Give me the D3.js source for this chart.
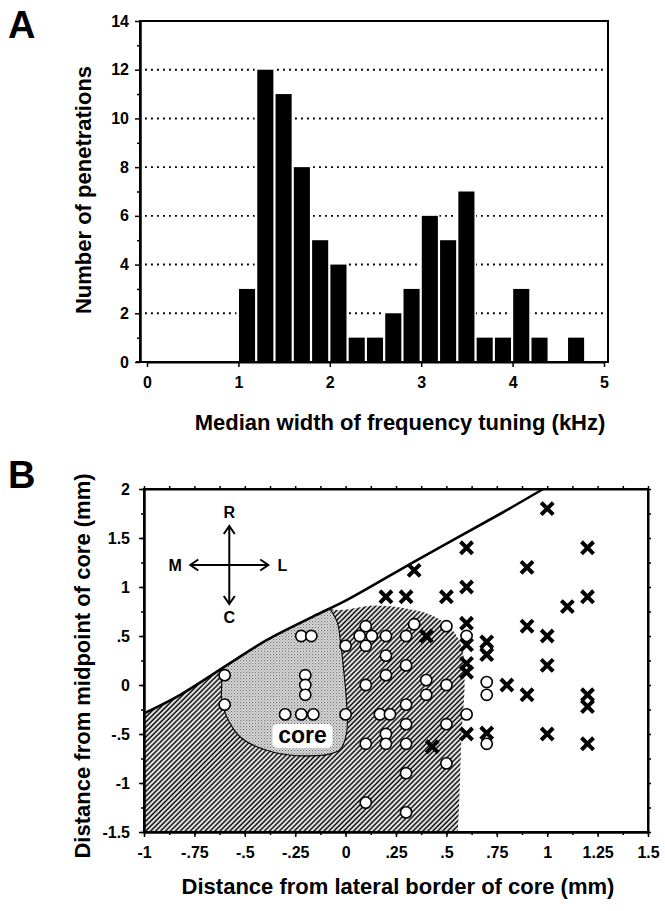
<!DOCTYPE html>
<html>
<head>
<meta charset="utf-8">
<script src="https://cdn.jsdelivr.net/npm/d3@7"></script>
<style>
  body { margin: 0; background: #fff; }
  svg { display: block; }
  text { font-family: "Liberation Sans", Arial, Helvetica, sans-serif; font-weight: bold; fill: #000; }
</style>
</head>
<body>
<svg id="fig" width="665" height="911"></svg>
<script>
// ---------- Panel A: histogram of median tuning width (0.2 kHz bins) ----------
const binStarts = [1.0, 1.2, 1.4, 1.6, 1.8, 2.0, 2.2, 2.4, 2.6, 2.8, 3.0, 3.2, 3.4, 3.6, 3.8, 4.0, 4.2, 4.4, 4.6];
const binCounts = [3, 12, 11, 8, 5, 4, 1, 1, 2, 3, 6, 5, 7, 1, 1, 3, 1, 0, 1];
const binWidth = 0.2;
const countTicks = [0, 2, 4, 6, 8, 10, 12, 14];
const countMinorTicks = [1, 3, 5, 7, 9, 11, 13];
const widthTicks = [0, 1, 2, 3, 4, 5];

// ---------- Panel B: penetration sites relative to the core ----------
const xTicksB = [-1, -0.75, -0.5, -0.25, 0, 0.25, 0.5, 0.75, 1, 1.25, 1.5];
const xTickLabelsB = ["-1", "-.75", "-.5", "-.25", "0", ".25", ".5", ".75", "1", "1.25", "1.5"];
const yTicksB = [2, 1.5, 1, 0.5, 0, -0.5, -1, -1.5];
const yTickLabelsB = ["2", "1.5", "1", ".5", "0", "-.5", "-1", "-1.5"];

// open circles
const circleX = [-0.22, -0.17, 0.0, 0.07, 0.1, 0.13, 0.1, 0.2, 0.2, 0.3, 0.34, 0.3, 0.5, 0.6, 0.7,
                 -0.6, -0.6, -0.2, -0.2, -0.2, -0.3, -0.22, -0.16, 0.0, 0.1, 0.2, 0.17, 0.22, 0.3, 0.3,
                 0.4, 0.4, 0.5, 0.5, 0.6, 0.2, 0.2, 0.1, 0.3, 0.5, 0.3, 0.1, 0.3, 0.7, 0.7, 0.7];
const circleY = [0.5, 0.5, 0.4, 0.5, 0.6, 0.5, 0.4, 0.5, 0.3, 0.5, 0.62, 0.2, 0.6, 0.5, 0.37,
                 0.1, -0.2, 0.1, 0.0, -0.1, -0.3, -0.3, -0.3, -0.3, 0.0, 0.1, -0.3, -0.3, -0.2, -0.4,
                 0.05, -0.1, 0.0, -0.4, -0.3, -0.5, -0.6, -0.6, -0.6, -0.8, -0.9, -1.2, -1.3, 0.03, -0.1, -0.6];
// crosses
const crossX = [1.0, 0.6, 1.2, 0.34, 0.9, 0.6, 0.2, 0.3, 0.5, 1.2, 1.1, 0.6, 0.9, 0.4, 1.0,
                0.6, 0.7, 0.7, 0.6, 0.6, 1.0, 0.8, 0.9, 1.2, 1.2, 0.6, 0.7, 1.0, 1.2, 0.43];
const crossY = [1.8, 1.4, 1.4, 1.17, 1.2, 1.0, 0.9, 0.9, 0.9, 0.9, 0.8, 0.63, 0.6, 0.5, 0.5,
                0.41, 0.44, 0.31, 0.22, 0.13, 0.2, 0.0, -0.1, -0.1, -0.22, -0.5, -0.49, -0.5, -0.6, -0.63];

// solid border line
const borderX = [-1.0, -0.82, -0.59, -0.39, -0.16, 0.0, 0.35, 0.77, 0.98];
const borderY = [-0.29, -0.1, 0.2, 0.46, 0.7, 0.86, 1.27, 1.75, 2.0];

// hatched field (clipped below the border line)
const hatchX = [-1.0, -1.0, -0.3, -0.06, 0.14, 0.3, 0.44, 0.53, 0.58, 0.59, 0.575, 0.567, 0.557];
const hatchY = [-1.5, 1.0, 1.0, 0.77, 0.81, 0.78, 0.7, 0.56, 0.36, 0.0, -0.5, -1.0, -1.5];

// stippled core
const coreX = [-0.615, -0.64, -0.35, -0.12, -0.045, -0.025, -0.008, 0.006, 0.005, -0.028, -0.08, -0.28, -0.44, -0.524, -0.59, -0.615];
const coreY = [0.085, 0.35, 0.75, 0.85, 0.66, 0.43, 0.12, -0.22, -0.49, -0.66, -0.705, -0.715, -0.63, -0.528, -0.323, -0.153];

const svg = d3.select("#fig");
const defs = svg.append("defs");

// ============ PANEL A ============
const A = { left: 140, right: 608, top: 21, bottom: 362 };
const xA = d3.scaleLinear().domain([0, 5]).range([147, 604]);
const yA = d3.scaleLinear().domain([0, 14]).range([A.bottom, A.top]);
const gA = svg.append("g");

// dotted reference lines
gA.append("g").selectAll("line")
  .data(countTicks.filter(v => v > 0 && v < 14))
  .join("line")
  .attr("x1", A.left + 5).attr("x2", A.right - 3)
  .attr("y1", d => yA(d)).attr("y2", d => yA(d))
  .attr("stroke", "#000").attr("stroke-width", 1.9)
  .attr("stroke-dasharray", "1.9,4.1");

const bins = binStarts.map((b, i) => ({ b, n: binCounts[i] })).filter(d => d.n > 0);
// white knock-out around each bar
gA.append("g").selectAll("rect")
  .data(bins).join("rect")
  .attr("x", d => xA(d.b) - 2)
  .attr("y", d => yA(d.n) - 3)
  .attr("width", d => xA(d.b + binWidth) - xA(d.b) + 2)
  .attr("height", d => yA(0) - yA(d.n) + 3)
  .attr("fill", "#fff");
gA.append("g").selectAll("rect")
  .data(bins).join("rect")
  .attr("x", d => xA(d.b) + 0.6)
  .attr("y", d => yA(d.n))
  .attr("width", d => xA(d.b + binWidth) - xA(d.b) - 2.2)
  .attr("height", d => yA(0) - yA(d.n))
  .attr("fill", "#000");

// frame
gA.append("path")
  .attr("d", `M${A.left},${A.bottom}V${A.top}H${A.right}V${A.bottom}H${A.left - 4}`)
  .attr("fill", "none").attr("stroke", "#000").attr("stroke-width", 2);

// axes
gA.append("g").attr("transform", `translate(${A.left},0)`)
  .call(d3.axisLeft(yA).tickValues(countTicks).tickSize(5).tickPadding(6).tickFormat(d3.format("d")).tickSizeOuter(0));
gA.append("g").attr("transform", `translate(${A.left},0)`)
  .call(d3.axisLeft(yA).tickValues(countMinorTicks).tickSize(3).tickFormat("").tickSizeOuter(0));
gA.append("g").attr("transform", `translate(0,${A.bottom})`)
  .call(d3.axisBottom(xA).tickValues(widthTicks).tickSize(5).tickPadding(10).tickFormat(d3.format("d")).tickSizeOuter(0));

// ============ PANEL B ============
const B = { left: 144, right: 648, top: 489, bottom: 832 };
const xB = d3.scaleLinear().domain([-1, 1.5]).range([B.left, B.right]);
const yB = d3.scaleLinear().domain([-1.5, 2]).range([B.bottom, B.top]);
const gB = svg.append("g");

// patterns
const hatch = defs.append("pattern").attr("id", "hatch")
  .attr("patternUnits", "userSpaceOnUse").attr("width", 3.5).attr("height", 3.5)
  .attr("patternTransform", "rotate(45)");
hatch.append("rect").attr("width", 3.5).attr("height", 3.5).attr("fill", "#fff");
hatch.append("line").attr("x1", 1.2).attr("x2", 1.2).attr("y1", 0).attr("y2", 3.5)
  .attr("stroke", "#000").attr("stroke-width", 1.6);

const stip = defs.append("pattern").attr("id", "stip")
  .attr("patternUnits", "userSpaceOnUse").attr("width", 3).attr("height", 3);
stip.append("rect").attr("width", 3).attr("height", 3).attr("fill", "#dadada");
stip.append("rect").attr("x", 0).attr("y", 0).attr("width", 1.1).attr("height", 1.1).attr("fill", "#6e6e6e");
stip.append("rect").attr("x", 1.5).attr("y", 1.5).attr("width", 1.1).attr("height", 1.1).attr("fill", "#8e8e8e");

// clip: everything below/right of the border line, inside the frame
const borderPts = borderX.map((x, i) => [xB(x), yB(borderY[i])]);
const borderLine = d3.line().curve(d3.curveCatmullRom);
const corners = [[xB(1.5), yB(2)], [xB(1.5), yB(-1.5)], [xB(-1), yB(-1.5)]];
defs.append("clipPath").attr("id", "belowBorder")
  .append("path").attr("d", borderLine(borderPts) +
    corners.map(p => `L${p[0]},${p[1]}`).join("") + "Z");

const hatchPts = hatchX.map((x, i) => [xB(x), yB(hatchY[i])]);
gB.append("path")
  .attr("clip-path", "url(#belowBorder)")
  .attr("d", d3.line().curve(d3.curveCatmullRom)(hatchPts) + "Z")
  .attr("fill", "url(#hatch)");

const corePts = coreX.map((x, i) => [xB(x), yB(coreY[i])]);
gB.append("path")
  .attr("clip-path", "url(#belowBorder)")
  .attr("d", d3.line().curve(d3.curveCatmullRomClosed)(corePts))
  .attr("fill", "url(#stip)").attr("stroke", "#000").attr("stroke-width", 1.1);

// border line
gB.append("path")
  .attr("d", borderLine(borderPts))
  .attr("fill", "none").attr("stroke", "#000").attr("stroke-width", 2.6);

// "core" label
const coreLabel = gB.append("g").attr("transform", `translate(${xB(-0.214)},${yB(-0.52)})`);
coreLabel.append("rect").attr("x", -30).attr("y", -12).attr("width", 60).attr("height", 24)
  .attr("rx", 5).attr("fill", "#fff");
coreLabel.append("text").attr("text-anchor", "middle").attr("y", 7).attr("font-size", 23).text("core");

// orientation compass
const cx = xB(-0.577), cy = yB(1.224);
const comp = gB.append("g").attr("transform", `translate(${cx},${cy})`);
const armV = 39, armH = 39, head = 8, hw = 5.5;
comp.append("path").attr("d", `M0,${-armV}V${armV}M${-armH},0H${armH}`)
  .attr("stroke", "#000").attr("stroke-width", 2).attr("fill", "none");
comp.append("path").attr("d",
  `M${-hw},${-armV + head}L0,${-armV}L${hw},${-armV + head}` +
  `M${-hw},${armV - head}L0,${armV}L${hw},${armV - head}` +
  `M${-armH + head},${-hw}L${-armH},0L${-armH + head},${hw}` +
  `M${armH - head},${-hw}L${armH},0L${armH - head},${hw}`)
  .attr("stroke", "#000").attr("stroke-width", 2).attr("fill", "none");
const compLabels = [["R", 0, -armV - 8], ["C", 0, armV + 19], ["M", -armH - 15, 6], ["L", armH + 14, 6]];
comp.selectAll("text").data(compLabels).join("text")
  .attr("x", d => d[1]).attr("y", d => d[2]).attr("text-anchor", "middle")
  .attr("font-size", 16).text(d => d[0]);

// markers
gB.append("g").selectAll("circle")
  .data(circleX.map((x, i) => [x, circleY[i]])).join("circle")
  .attr("cx", d => xB(d[0])).attr("cy", d => yB(d[1])).attr("r", 5.6)
  .attr("fill", "#fff").attr("stroke", "#000").attr("stroke-width", 1.6);
gB.append("g").selectAll("path")
  .data(crossX.map((x, i) => [x, crossY[i]])).join("path")
  .attr("transform", d => `translate(${xB(d[0])},${yB(d[1])})`)
  .attr("d", "M-4.6,-4.6L4.6,4.6M-4.6,4.6L4.6,-4.6")
  .attr("stroke", "#000").attr("stroke-width", 4).attr("stroke-linecap", "square");

// frame
gB.append("rect").attr("x", B.left).attr("y", B.top)
  .attr("width", B.right - B.left).attr("height", B.bottom - B.top)
  .attr("fill", "none").attr("stroke", "#000").attr("stroke-width", 2);

const minorX = d3.range(-1, 1.5001, 0.125);
const minorY = d3.range(-1.5, 2.0001, 0.25);
const fmtX = v => xTickLabelsB[xTicksB.findIndex(t => Math.abs(t - v) < 1e-9)];
const fmtY = v => yTickLabelsB[yTicksB.findIndex(t => Math.abs(t - v) < 1e-9)];

gB.append("g").attr("transform", `translate(0,${B.bottom})`)
  .call(d3.axisBottom(xB).tickValues(xTicksB).tickSize(5).tickPadding(10).tickFormat(fmtX).tickSizeOuter(0));
gB.append("g").attr("transform", `translate(0,${B.bottom})`)
  .call(d3.axisBottom(xB).tickValues(minorX).tickSize(3).tickFormat("").tickSizeOuter(0));
gB.append("g").attr("transform", `translate(0,${B.top})`)
  .call(d3.axisTop(xB).tickValues(minorX).tickSize(3).tickFormat("").tickSizeOuter(0));
gB.append("g").attr("transform", `translate(${B.left},0)`)
  .call(d3.axisLeft(yB).tickValues(yTicksB).tickSize(5).tickPadding(9).tickFormat(fmtY).tickSizeOuter(0));
gB.append("g").attr("transform", `translate(${B.left},0)`)
  .call(d3.axisLeft(yB).tickValues(minorY).tickSize(3).tickFormat("").tickSizeOuter(0));
gB.append("g").attr("transform", `translate(${B.right},0)`)
  .call(d3.axisRight(yB).tickValues(minorY).tickSize(3).tickFormat("").tickSizeOuter(0));

// common axis styling
svg.selectAll(".domain").attr("stroke-width", 2);
svg.selectAll(".tick line").attr("stroke-width", 1.5);
svg.selectAll(".tick text").attr("font-size", 16).attr("font-weight", "bold")
  .attr("font-family", "'Liberation Sans', Arial, sans-serif");

// ---------- titles and panel letters ----------
svg.append("text").attr("x", 8).attr("y", 38).attr("font-size", 38).text("A");
svg.append("text").attr("x", 8).attr("y", 488).attr("font-size", 38).text("B");

svg.append("text").attr("text-anchor", "middle").attr("font-size", 22)
  .attr("transform", `translate(91,190) rotate(-90)`).text("Number of penetrations");
svg.append("text").attr("text-anchor", "middle").attr("font-size", 22)
  .attr("x", 400).attr("y", 430).text("Median width of frequency tuning (kHz)");

svg.append("text").attr("text-anchor", "middle").attr("font-size", 22)
  .attr("transform", `translate(90,666) rotate(-90)`).text("Distance from midpoint of core (mm)");
svg.append("text").attr("text-anchor", "middle").attr("font-size", 22)
  .attr("x", 398).attr("y", 894).text("Distance from lateral border of core (mm)");
</script>
</body>
</html>
